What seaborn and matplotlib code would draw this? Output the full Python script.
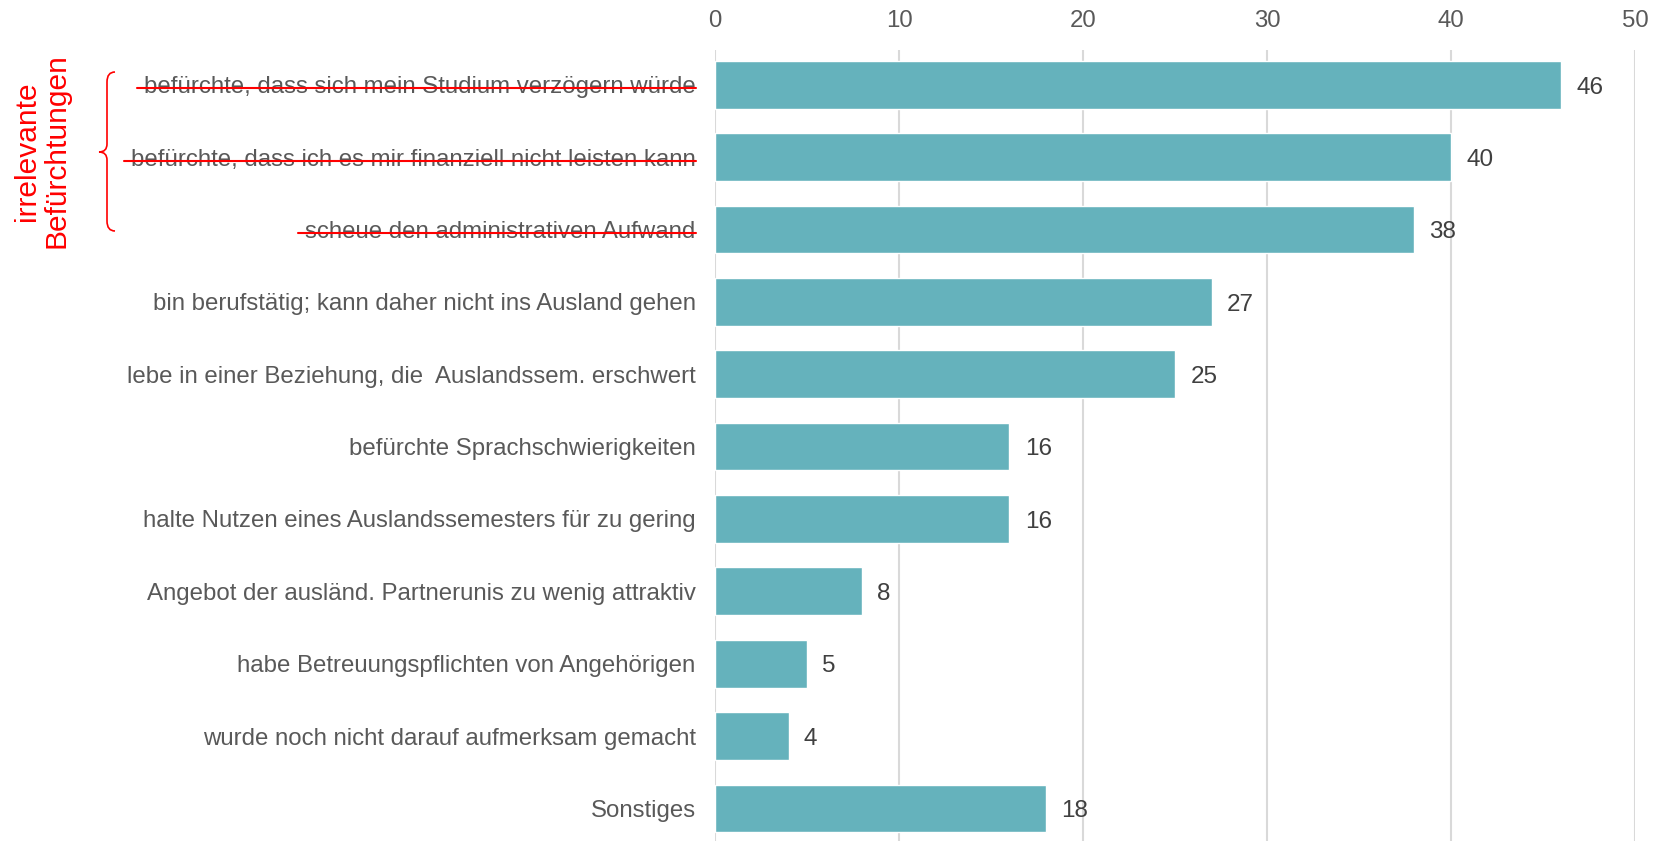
import numpy as np
import pandas as pd
import matplotlib
matplotlib.use("Agg")
import matplotlib.pyplot as plt
from matplotlib.path import Path
from matplotlib.patches import PathPatch
import seaborn as sns

labels = [
    "befürchte, dass sich mein Studium verzögern würde",
    "befürchte, dass ich es mir finanziell nicht leisten kann",
    "scheue den administrativen Aufwand",
    "bin berufstätig; kann daher nicht ins Ausland gehen",
    "lebe in einer Beziehung, die  Auslandssem. erschwert",
    "befürchte Sprachschwierigkeiten",
    "halte Nutzen eines Auslandssemesters für zu gering",
    "Angebot der ausländ. Partnerunis zu wenig attraktiv",
    "habe Betreuungspflichten von Angehörigen",
    "wurde noch nicht darauf aufmerksam gemacht",
    "Sonstiges",
]
values = [46, 40, 38, 27, 25, 16, 16, 8, 5, 4, 18]
struck = [0, 1, 2]
note_text = "irrelevante\nBefürchtungen"

df = pd.DataFrame({"label": labels, "value": values})

sns.set_style("white")
plt.rcParams["font.family"] = ["Liberation Sans", "DejaVu Sans"]

W, H = 1664, 841
fig = plt.figure(figsize=(W / 100, H / 100), dpi=100)
ax = fig.add_axes([715 / W, 0.0, (1635 - 715) / W, 1 - 50 / H])

sns.barplot(data=df, x="value", y="label", color="#65B2BC", saturation=1,
            width=0.66, ax=ax, zorder=3)
labs = ax.bar_label(ax.containers[0], padding=11, fontsize=17.5, color="#404040")
for t in labs:
    t.set_va("center")
    t.xyann = (11, -2)

ax.set_xlim(0, 50)
ax.set_xticks(range(0, 51, 10))
ax.set_ylim(10.45, -0.48)
ax.xaxis.tick_top()
ax.grid(axis="x", color="#D9D9D9", linewidth=1.5, zorder=0)
ax.grid(axis="y", visible=False)
for s in ax.spines.values():
    s.set_visible(False)
ax.tick_params(axis="both", length=0, labelsize=17.3, colors="#595959")
ax.tick_params(axis="y", pad=14)
ax.tick_params(axis="x", pad=13)
ax.set_xlabel("")
ax.set_ylabel("")

# strike through the irrelevant labels
fig.canvas.draw()
renderer = fig.canvas.get_renderer()
ticklabels = ax.get_yticklabels()
for i in struck:
    bb = ticklabels[i].get_window_extent(renderer)
    ymid = (bb.y0 + bb.y1) / 2 - 1
    fig.add_artist(plt.Line2D([(bb.x0 - 7) / W, bb.x1 / W], [ymid / H, ymid / H],
                              transform=fig.transFigure, color="red", linewidth=1.5))

# curly brace
def px(x, y):
    return (x / W, 1 - y / H)

xt, xm, xe = 99, 107, 115
yt, yc, yb = 72, 152, 231
verts = [px(xe, yt), px(xm, yt), px(xm, yt + 10),
         px(xm, yc - 8), px(xm, yc), px(xt, yc),
         px(xm, yc), px(xm, yc + 8),
         px(xm, yb - 10), px(xm, yb), px(xe, yb)]
codes = [Path.MOVETO, Path.CURVE3, Path.CURVE3,
         Path.LINETO, Path.CURVE3, Path.CURVE3,
         Path.CURVE3, Path.CURVE3,
         Path.LINETO, Path.CURVE3, Path.CURVE3]
fig.add_artist(PathPatch(Path(verts, codes), transform=fig.transFigure,
                         facecolor="none", edgecolor="red", linewidth=1.2))

fig.text(42 / W, 1 - 151 / H, note_text, rotation=90, color="red", fontsize=21.5,
         ha="center", va="center", linespacing=1.05)

fig.savefig("out.png", dpi=100)
